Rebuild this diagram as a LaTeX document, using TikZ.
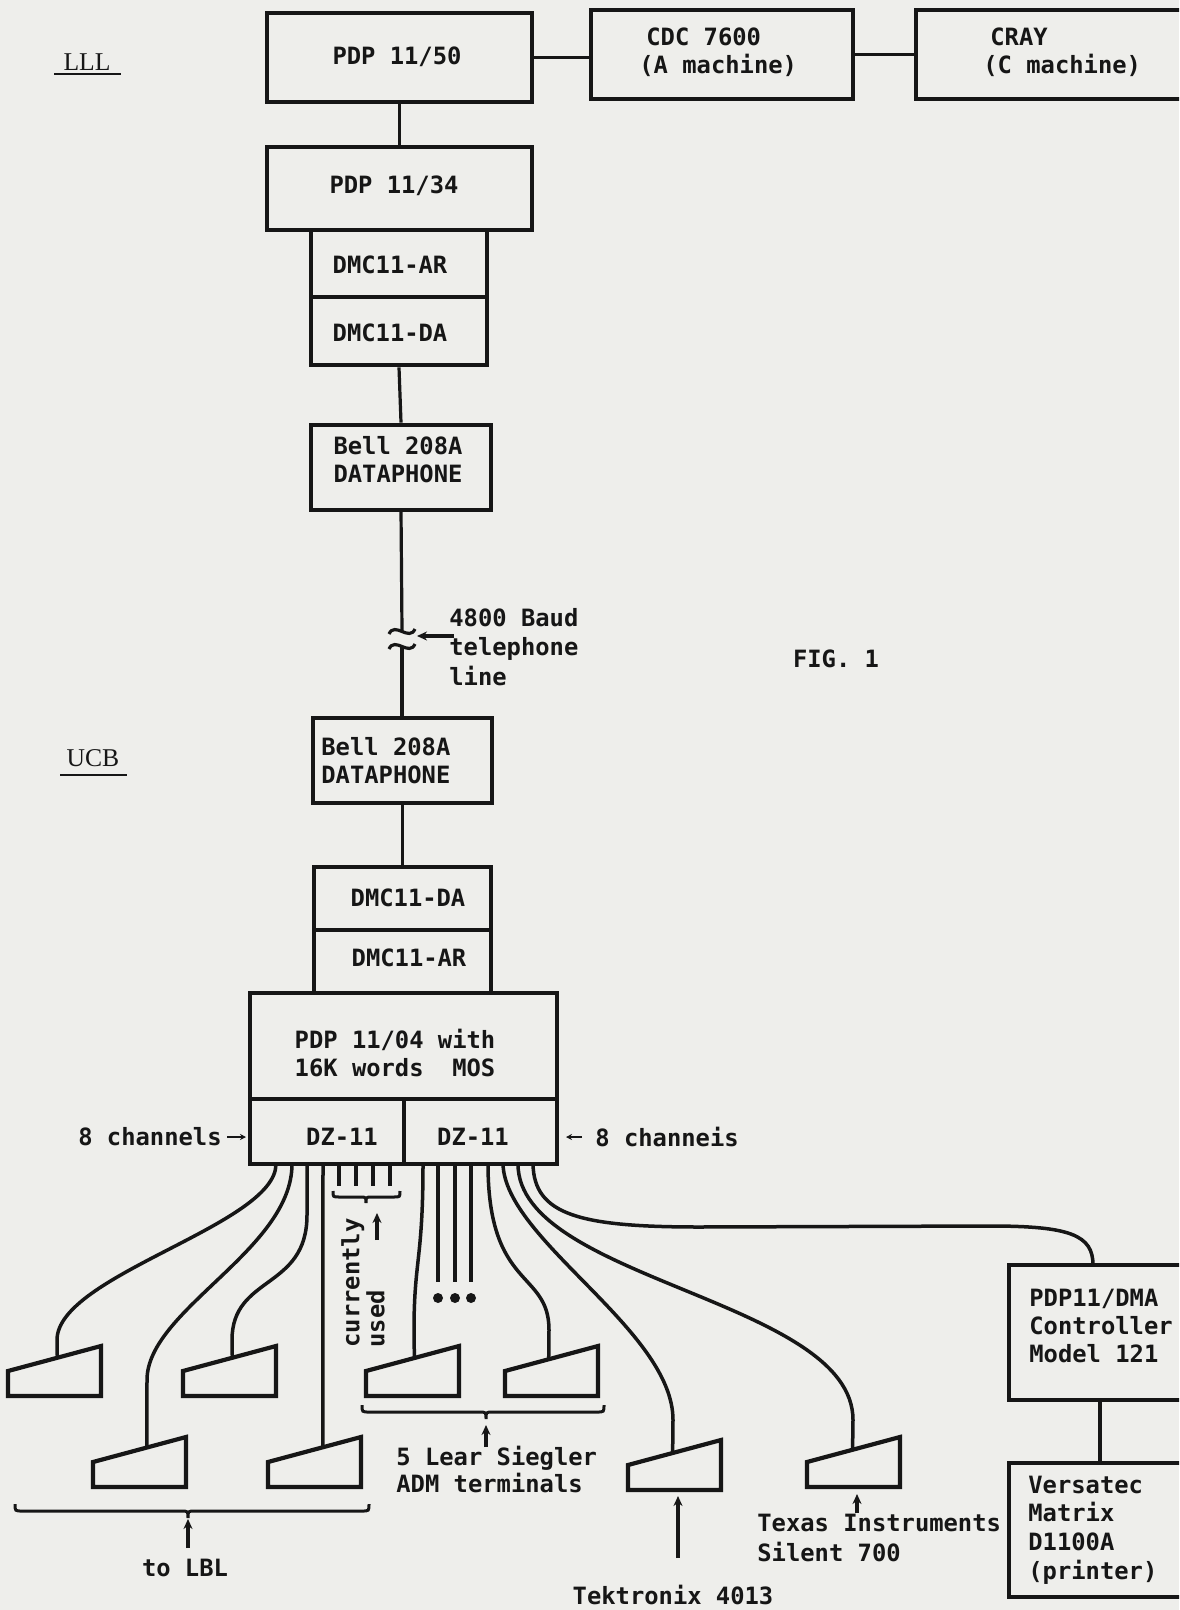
\documentclass[tikz,border=0pt]{standalone}
\usepackage{fontspec}
\newfontfamily\mono{DejaVu Sans Mono}
\newfontfamily\ser{Liberation Serif}
\usetikzlibrary{fit,arrows.meta}
\definecolor{paper}{RGB}{238,238,235}
\definecolor{ink}{RGB}{22,22,22}
\tikzset{
  box/.style={draw=ink, line width=2.4pt, inner sep=0pt},
  lbl/.style={text=ink, font=\mono\bfseries\fontsize{11.9}{14}\selectfont, inner sep=0pt, align=left},
  serlbl/.style={text=ink, font=\ser\fontsize{12.8}{14}\selectfont, inner sep=0pt},
  wire/.style={draw=ink, line width=1.6pt},
  cable/.style={draw=ink, line width=1.75pt},
  term/.style={draw=ink, line width=2.1pt, line join=miter},
  ptr/.style={draw=ink, line width=1.9pt, -{Stealth[length=5pt,width=4.5pt]}},
  thinptr/.style={draw=ink, line width=0.8pt, -{Stealth[length=3pt,width=3pt]}},
  brc/.style={draw=ink, line width=1.5pt},
}
\newcommand\myterm[4]{%
  \draw[term] (#2,#3) -- ++(0,-25) -- ++(93,-25) -- ++(0,50) -- cycle;
  \coordinate (#1) at ({#2+#4*93},{#3-25-#4*25});}
\newcommand\mybrace[5]{%
  \draw[brc] ({#1},{#4-#5}) .. controls ({#1},{#4}) and ({#1},{#4}) .. ({#1+#5},{#4})
    -- ({#3-#5},{#4}) .. controls ({#3},{#4}) and ({#3},{#4}) .. ({#3},{#4+#5})
    .. controls ({#3},{#4}) and ({#3},{#4}) .. ({#3+#5},{#4})
    -- ({#2-#5},{#4}) .. controls ({#2},{#4}) and ({#2},{#4}) .. ({#2},{#4-#5});}
\begin{document}
\begin{tikzpicture}[x=0.5pt,y=-0.5pt]
\fill[paper] (0,0) rectangle (1179,1610);
\useasboundingbox (0,0) rectangle (1179,1610);
\clip (0,0) rectangle (1179,1610);

% ---- labels LLL / UCB / FIG
\node[serlbl] (lll) at (87,62) {LLL};
\draw[ink, line width=1.2pt] (54,74) -- (121,74);
\node[serlbl] (ucb) at (93,758) {UCB};
\draw[ink, line width=1.2pt] (60,775) -- (127,775);
\node[lbl] (fig) at (836,659) {FIG. 1};

% ---- top row
\node[box, fit={(267,13)(532,102)}] (pdp50) {};
\node[lbl] (tpdp50) at (397,57) {PDP 11/50};
\node[box, fit={(591,10)(853,99)}] (cdc) {};
\node[lbl, anchor=west] (tcdc) at (639,52) {\hspace{3.5pt}CDC 7600\\(A machine)};
\node[box, fit={(916,10)(1200,99)}] (cray) {};
\node[lbl, anchor=west] (tcray) at (983,52) {\hspace{3.5pt}CRAY\\(C machine)};
\draw[wire] (pdp50.east) -- (pdp50.east -| cdc.west);
\draw[wire] (cdc.east) -- (cdc.east -| cray.west);

% ---- LLL stack
\node[box, fit={(267,147)(532,230)}] (pdp34) {};
\node[lbl] (tpdp34) at (394,186) {PDP 11/34};
\draw[wire] (pdp50.south) -- (pdp34.north);
\node[box, fit={(311,230)(487,297)}] (ar1) {};
\node[lbl] (tar1) at (390,265) {DMC11-AR};
\node[box, fit={(311,297)(487,365)}] (da1) {};
\node[lbl] (tda1) at (390,333) {DMC11-DA};
\node[box, fit={(311,425)(491,510)}] (bell1) {};
\node[lbl, align=center] (tbell1) at (398,460) {Bell 208A\\DATAPHONE};
\draw[wire] (da1.south) -- (bell1.north);

% ---- telephone line
\coordinate (b1) at (401,510);
\coordinate (sq1) at (402,631);
\coordinate (sq2) at (402,646);
\coordinate (b2) at (402,718);
\draw[wire] (b1) -- (sq1);
\draw[wire] (389,634) .. controls (395,621) and (409,642) .. (415,629);
\draw[wire] (389,649) .. controls (395,636) and (409,657) .. (415,644);
\draw[wire] (sq2) -- (b2);
\node[lbl, anchor=west, font=\mono\bfseries\fontsize{11.9}{14.8}\selectfont] (baud) at (449,647) {4800 Baud\\telephone\\line};
\coordinate (ba1) at (454,636);
\coordinate (ba2) at (417,636);
\draw[ptr] (ba1) -- (ba2);

% ---- UCB stack
\node[box, fit={(313,718)(492,803)}] (bell2) {};
\node[lbl, anchor=west] (tbell2) at (321,761) {Bell 208A\\DATAPHONE};
\node[box, fit={(314,867)(491,930)}] (da2) {};
\node[lbl] (tda2) at (408,898) {DMC11-DA};
\draw[wire] (bell2.south) -- (da2.north);
\node[box, fit={(314,930)(491,993)}] (ar2) {};
\node[lbl] (tar2) at (409,958) {DMC11-AR};
\node[box, fit={(250,993)(557,1099)}] (pdp04) {};
\node[lbl, align=center] (tpdp04) at (395,1053) {PDP 11/04 with\\16K words\ \ MOS};
\node[box, fit={(250,1099)(404,1164)}] (dzl) {};
\node[lbl] (tdzl) at (342,1137) {DZ-11};
\node[box, fit={(404,1099)(557,1164)}] (dzr) {};
\node[lbl] (tdzr) at (473,1137) {DZ-11};

\node[lbl, anchor=east] (ch1) at (222,1137) {8 channels};
\coordinate (ch1a) at (227,1137);
\draw[thinptr] (ch1a) -- (246,1137);
\node[lbl, anchor=west] (ch2) at (595,1137) {8 channeis};
\coordinate (ch2a) at (582,1137);
\draw[thinptr] (ch2a) -- (566,1137);

% ---- terminals
\myterm{t1}{8}{1396}{0.53}
\myterm{t2}{183}{1396}{0.53}
\myterm{t4}{93}{1487}{0.58}
\myterm{t5}{268}{1487}{0.59}
\myterm{t6}{366}{1396}{0.52}
\myterm{t7}{505}{1396}{0.47}
\myterm{tek}{628}{1490}{0.48}
\myterm{ti}{807}{1487}{0.49}

% ---- cables from left DZ-11
\coordinate (cA) at (276,1164);
\coordinate (cB) at (292,1164);
\coordinate (cC) at (307,1164);
\coordinate (cD) at (323,1164);
\draw[cable] (cA) .. controls (276,1225) and (57,1275) .. (57,1340) -- (t1);
\draw[cable] (cB) .. controls (292,1250) and (147,1310) .. (147,1380) -- (t4);
\draw[cable] (cC) -- (307,1215) .. controls (307,1290) and (232,1275) .. (232,1340) -- (t2);
\draw[cable] (cD) -- (t5);
% unused stubs
\foreach \x/\n in {339/s1,356/s2,373/s3,390/s4}{
  \coordinate (\n) at (\x,1164);
  \draw[cable] (\n) -- (\x,1186);
}
\mybrace{333}{400}{366}{1197}{6}
\coordinate (cu1) at (377,1240);
\coordinate (cu2) at (377,1213);
\draw[ptr] (cu1) -- (cu2);
\node[lbl, rotate=90, anchor=north west, font=\mono\bfseries\fontsize{11.9}{12.5}\selectfont] (cur) at (341,1348) {currently\\used};

% ---- cables from right DZ-11
\coordinate (cE) at (423,1164);
\coordinate (cI) at (488,1164);
\coordinate (cJ) at (503,1164);
\coordinate (cK) at (518,1164);
\coordinate (cL) at (533,1164);
\draw[cable] (cE) .. controls (423,1260) and (414,1260) .. (414,1330) -- (t6);
\foreach \x/\n in {438/f1,455/f2,471/f3}{
  \coordinate (\n) at (\x,1164);
  \draw[cable] (\n) -- (\x,1282);
  \fill[ink] (\x,1298) circle (2.5pt);
}
\draw[cable] (cI) .. controls (488,1290) and (549,1270) .. (549,1330) -- (t7);
\draw[cable] (cJ) .. controls (505,1240) and (673,1330) .. (673,1420) -- (tek);
\draw[cable] (cK) .. controls (518,1280) and (853,1300) .. (853,1420) -- (ti);
\coordinate (dmain) at (1093,1265);
\draw[cable] (cL) .. controls (534,1215) and (580,1227) .. (700,1227) -- (990,1226)
  .. controls (1070,1226) and (1093,1235) .. (dmain);

% ---- right side boxes
\node[box, fit={(1009,1265)(1200,1400)}] (dma) {};
\node[lbl, anchor=west] (tdma) at (1029,1326) {PDP11/DMA\\Controller\\Model 121};
\node[box, fit={(1009,1463)(1200,1597)}] (ver) {};
\node[lbl, anchor=west, font=\mono\bfseries\fontsize{11.9}{14.3}\selectfont] (tver) at (1028,1530) {Versatec\\Matrix\\D1100A\\(printer)};
\coordinate (dmab) at (1100,1400);
\coordinate (vert) at (1100,1463);
\draw[wire] (dmab) -- (vert);

% ---- braces and captions
\mybrace{15}{369}{188}{1511}{7}
\coordinate (lb1) at (188,1548);
\coordinate (lb2) at (188,1519);
\draw[ptr] (lb1) -- (lb2);
\node[lbl] (lbl) at (185,1568) {to LBL};

\mybrace{362}{604}{486}{1412}{7}
\coordinate (ad1) at (486,1447);
\coordinate (ad2) at (486,1425);
\draw[ptr] (ad1) -- (ad2);
\node[lbl, anchor=west, font=\mono\bfseries\fontsize{11.9}{13.5}\selectfont] (adm) at (396,1469) {5 Lear Siegler\\ADM terminals};

\coordinate (tk1) at (678,1558);
\coordinate (tk2) at (678,1496);
\draw[ptr] (tk1) -- (tk2);
\node[lbl] (tektxt) at (673,1595) {Tektronix 4013};

\coordinate (ti1) at (857,1513);
\coordinate (ti2) at (857,1494);
\draw[ptr] (ti1) -- (ti2);
\node[lbl, anchor=west, font=\mono\bfseries\fontsize{11.9}{15}\selectfont] (titxt) at (757,1538) {Texas Instruments\\Silent 700};
\end{tikzpicture}
\end{document}
